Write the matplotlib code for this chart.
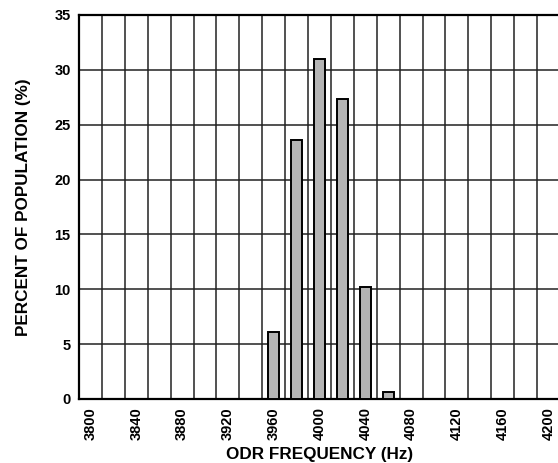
import numpy as np
import matplotlib
matplotlib.use("Agg")
import matplotlib.pyplot as plt

plt.rcParams['font.family'] = ['Liberation Sans', 'DejaVu Sans']
plt.rcParams['font.weight'] = 'bold'

# histogram of ODR frequency
freq = [3960, 3980, 4000, 4020, 4040, 4060]
percent = [6.1, 23.6, 31.0, 27.3, 10.2, 0.6]

xticks = [3800, 3840, 3880, 3920, 3960, 4000, 4040, 4080, 4120, 4160, 4200]
yticks = [0, 5, 10, 15, 20, 25, 30, 35]

fig = plt.figure(figsize=(5.58, 4.63), dpi=100)
ax = fig.add_axes([79/558, 1-399/463, 481/558, 384/463])

# grid at cell boundaries (every 20 Hz, offset by half a bin)
for g in np.arange(3810, 4200, 20):
    ax.axvline(g, color='#222222', lw=1.1, zorder=1)
for t in yticks[1:-1]:
    ax.axhline(t, color='#222222', lw=1.1, zorder=1)

ax.bar(freq, percent, width=9.5, color='#b4b4b4', edgecolor='black', lw=1.4, zorder=3)

ax.set_xlim(3790, 4210)
ax.set_ylim(0, 35)
ax.set_xticks(xticks)
ax.set_xticklabels([str(x) for x in xticks], rotation=90, fontsize=10.5, fontweight='bold')
ax.set_yticks(yticks)
ax.set_yticklabels([str(y) for y in yticks], fontsize=10.5, fontweight='bold')
ax.tick_params(length=0, pad=6)

for s in ['left', 'bottom', 'top']:
    ax.spines[s].set_linewidth(1.6)
ax.spines['right'].set_visible(False)

ax.set_xlabel('ODR FREQUENCY (Hz)', fontsize=12.3, fontweight='bold', labelpad=5)
ax.set_ylabel('PERCENT OF POPULATION (%)', fontsize=12.3, fontweight='bold', labelpad=17)

fig.savefig('out.png', dpi=100)
